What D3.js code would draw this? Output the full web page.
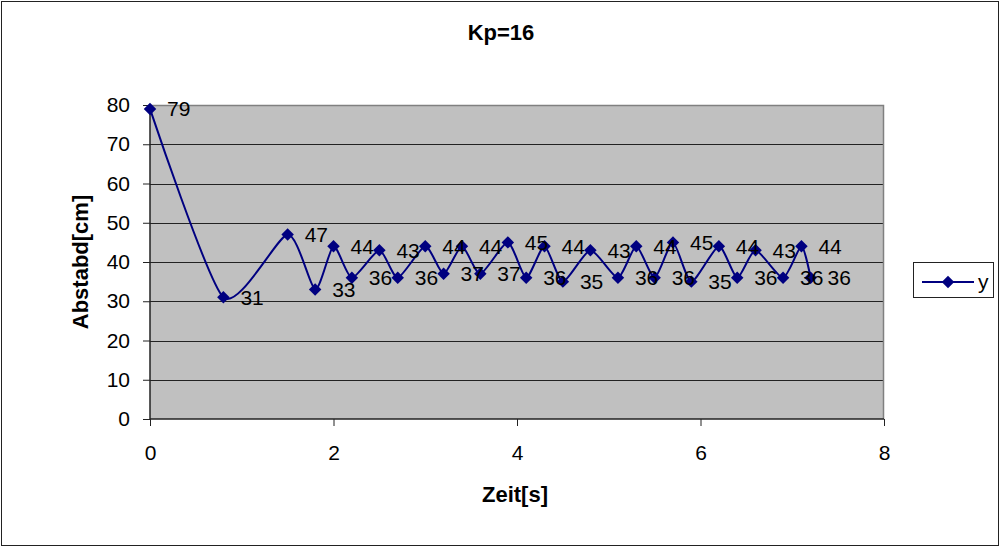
<!DOCTYPE html>
<html>
<head>
<meta charset="utf-8">
<script src="https://cdn.jsdelivr.net/npm/d3@7"></script>
<style>
  body { margin: 0; background: #fff; }
  text { font-family: "Liberation Sans", Arial, sans-serif; fill: #000; }
</style>
</head>
<body>
<svg id="chart" width="1002" height="548"></svg>
<script>
// Chart texts
const chartTitle = "Kp=16";
const xAxisTitle = "Zeit[s]";
const yAxisTitle = "Abstabd[cm]";
const seriesName = "y";

// Measured distance over time
const timeValues = [0, 0.8, 1.5, 1.8, 2.0, 2.2, 2.5, 2.7, 3.0, 3.2, 3.4, 3.6, 3.9, 4.1,
                    4.3, 4.5, 4.8, 5.1, 5.3, 5.5, 5.7, 5.9, 6.2, 6.4, 6.6, 6.9, 7.1, 7.2];
const distanceValues = [79, 31, 47, 33, 44, 36, 43, 36, 44, 37, 44, 37, 45, 36,
                        44, 35, 43, 36, 44, 36, 45, 35, 44, 36, 43, 36, 44, 36];

// Axis ticks
const xTicks = [0, 2, 4, 6, 8];
const yTicks = [0, 10, 20, 30, 40, 50, 60, 70, 80];

const points = timeValues.map((t, i) => ({ t, v: distanceValues[i] }));

const plot = { left: 150, right: 884, top: 105, bottom: 419 };
const navy = "#000080";

const svg = d3.select("#chart");

// Outer chart frame
svg.append("rect")
  .attr("x", 1.5).attr("y", 1.5)
  .attr("width", 997).attr("height", 544)
  .attr("fill", "#fff").attr("stroke", "#222").attr("stroke-width", 1);

const x = d3.scaleLinear().domain([0, 8]).range([plot.left, plot.right]);
const y = d3.scaleLinear().domain([0, 80]).range([plot.bottom, plot.top]);

// Plot area
svg.append("rect")
  .attr("x", plot.left).attr("y", plot.top)
  .attr("width", plot.right - plot.left).attr("height", plot.bottom - plot.top)
  .attr("fill", "#c0c0c0");

// Horizontal gridlines
svg.append("g")
  .selectAll("line")
  .data(yTicks.filter(d => d > 0 && d < 80))
  .join("line")
  .attr("x1", plot.left).attr("x2", plot.right)
  .attr("y1", d => Math.round(y(d)) + 0.5).attr("y2", d => Math.round(y(d)) + 0.5)
  .attr("stroke", "#222").attr("stroke-width", 1);

// Plot area border (top and right)
svg.append("path")
  .attr("d", `M${plot.left},${plot.top + 0.5}H${plot.right - 0.5}V${plot.bottom}`)
  .attr("fill", "none").attr("stroke", "#808080").attr("stroke-width", 1.5);

// Axes
const yAxis = svg.append("g")
  .attr("transform", `translate(${plot.left},0)`)
  .call(d3.axisLeft(y).tickValues(yTicks).tickSize(7).tickPadding(13));
const xAxis = svg.append("g")
  .attr("transform", `translate(0,${plot.bottom})`)
  .call(d3.axisBottom(x).tickValues(xTicks).tickSize(7).tickPadding(19));

[yAxis, xAxis].forEach(g => {
  g.select(".domain").attr("stroke", "#222").attr("stroke-width", 1.5);
  g.selectAll(".tick line").attr("stroke", "#222");
  g.selectAll(".tick text")
    .attr("font-family", '"Liberation Sans", Arial, sans-serif')
    .attr("font-size", 21).attr("fill", "#000");
});
yAxis.selectAll(".domain").attr("d", `M0,${plot.top}V${plot.bottom}`);
xAxis.selectAll(".domain").attr("d", `M${plot.left},0H${plot.right}`);

// Smoothed series line
const line = d3.line()
  .x(d => x(d.t)).y(d => y(d.v))
  .curve(d3.curveCardinal.tension(0.35));

svg.append("path")
  .datum(points)
  .attr("d", line)
  .attr("fill", "none")
  .attr("stroke", navy)
  .attr("stroke-width", 2);

// Diamond markers (square turned by 45 degrees)
const diamond = d3.symbol().type(d3.symbolSquare).size(78);
svg.append("g")
  .selectAll("path")
  .data(points)
  .join("path")
  .attr("transform", d => `translate(${x(d.t)},${y(d.v)}) rotate(45)`)
  .attr("d", diamond)
  .attr("fill", navy);

// Data labels to the right of each point
svg.append("g")
  .selectAll("text")
  .data(points)
  .join("text")
  .attr("x", d => x(d.t) + 17)
  .attr("y", d => y(d.v))
  .attr("dy", "0.36em")
  .attr("font-size", 21)
  .text(d => d.v);

// Titles
svg.append("text")
  .attr("x", (plot.left + plot.right) / 2 - 16).attr("y", 40)
  .attr("text-anchor", "middle")
  .attr("font-size", 22).attr("font-weight", "bold")
  .text(chartTitle);

svg.append("text")
  .attr("x", (plot.left + plot.right) / 2 - 2).attr("y", 502)
  .attr("text-anchor", "middle")
  .attr("font-size", 22).attr("font-weight", "bold")
  .text(xAxisTitle);

svg.append("text")
  .attr("transform", `translate(88,${(plot.top + plot.bottom) / 2}) rotate(-90)`)
  .attr("text-anchor", "middle")
  .attr("font-size", 22).attr("font-weight", "bold")
  .text(yAxisTitle);

// Legend
const legend = svg.append("g");
legend.append("rect")
  .attr("x", 913.5).attr("y", 262.5)
  .attr("width", 80).attr("height", 35)
  .attr("fill", "#fff").attr("stroke", "#222").attr("stroke-width", 1);
legend.append("line")
  .attr("x1", 922).attr("x2", 974).attr("y1", 282).attr("y2", 282)
  .attr("stroke", navy).attr("stroke-width", 2);
legend.append("path")
  .attr("transform", "translate(948,282) rotate(45)")
  .attr("d", diamond).attr("fill", navy);
legend.append("text")
  .attr("x", 978).attr("y", 289)
  .attr("font-size", 21)
  .text(seriesName);
</script>
</body>
</html>
